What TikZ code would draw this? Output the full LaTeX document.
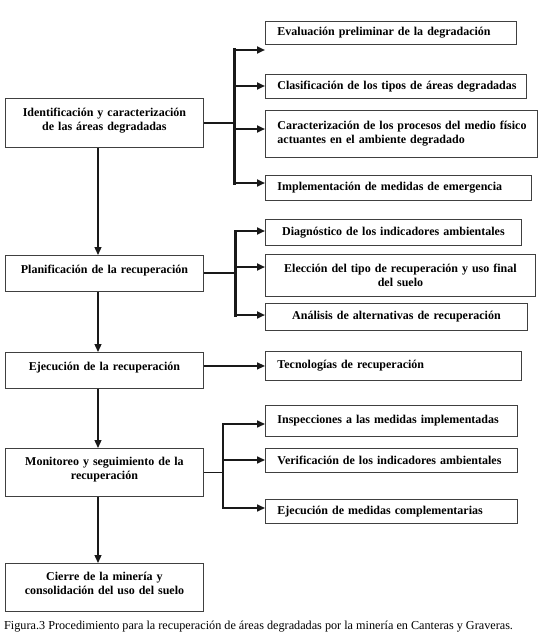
\documentclass[tikz,border=0pt]{standalone}
\usepackage{fontspec}
\setmainfont{Liberation Serif}
\usetikzlibrary{arrows.meta}
\newcommand{\ltxt}[1]{\hspace*{12pt}\mbox{#1}}
\begin{document}
\begin{tikzpicture}[x=1pt,y=-1pt,
  box/.style={draw=black!75, line width=0.9pt, inner ysep=0pt,
    font=\bfseries\fontsize{12}{14}\selectfont, anchor=north west},
  lbox/.style={box, align=left, inner xsep=0pt},
  cbox/.style={box, align=center, inner xsep=6pt},
  stepnode/.style={cbox, minimum width=198pt, text width=186pt, text depth=9pt},
  steptwo/.style={stepnode, text depth=22pt},
  arr/.style={-{Triangle[length=8pt,width=7pt]}, line width=1.3pt, draw=black!90},
  harr/.style={arr, line width=2pt},
  harrthin/.style={arr, line width=1.6pt},
  busthick/.style={line width=3pt, draw=black!90, line cap=rect},
  busthin/.style={line width=2pt, draw=black!90, line cap=rect},
  jointhick/.style={line width=2pt, draw=black!90},
  jointhin/.style={line width=1.6pt, draw=black!90}
]
\useasboundingbox (0,0) rectangle (543,634);

% left column
\node[steptwo, minimum height=49pt] (idn) at (5,98)
  {Identificación y caracterización\\de las áreas degradadas};
\node[stepnode, minimum height=36pt] (pla) at (5,255)
  {Planificación de la recuperación};
\node[stepnode, minimum height=36pt] (eje) at (5,352)
  {Ejecución de la recuperación};
\node[steptwo, minimum height=48pt] (mon) at (5,448)
  {Monitoreo y seguimiento de la\\recuperación};
\node[steptwo, minimum height=48pt] (cie) at (5,563)
  {Cierre de la minería y\\consolidación del uso del suelo};

% right column, group 1
\node[lbox, minimum width=251pt, minimum height=23pt, text width=251pt] (eva) at (265,21)
  {\ltxt{Evaluación preliminar de la degradación}};
\node[lbox, minimum width=261pt, minimum height=24pt, text width=261pt] (cla) at (265,74)
  {\ltxt{Clasificación de los tipos de áreas degradadas}};
\node[lbox, minimum width=272pt, minimum height=47pt, text width=272pt] (car) at (265,110)
  {\ltxt{Caracterización de los procesos del medio físico}\\\ltxt{actuantes en el ambiente degradado}};
\node[lbox, minimum width=266pt, minimum height=25pt, text width=266pt] (imp) at (265,175)
  {\ltxt{Implementación de medidas de emergencia}};

% group 2
\node[cbox, minimum width=256pt, minimum height=26pt, text width=244pt] (dia) at (265,219)
  {Diagnóstico de los indicadores ambientales};
\node[cbox, minimum width=270pt, minimum height=42pt, text width=258pt] (ele) at (265,254)
  {Elección del tipo de recuperación y uso final\\del suelo};
\node[cbox, minimum width=262pt, minimum height=27pt, text width=250pt] (ana) at (265,303)
  {Análisis de alternativas de recuperación};

% group 3
\node[lbox, minimum width=256pt, minimum height=29pt, text width=256pt] (tec) at (265,351)
  {\ltxt{Tecnologías de recuperación}};

% group 4
\node[lbox, minimum width=252pt, minimum height=31pt, text width=252pt] (ins) at (265,405)
  {\ltxt{Inspecciones a las medidas implementadas}};
\node[lbox, minimum width=252pt, minimum height=24pt, text width=252pt] (ver) at (265,448)
  {\ltxt{Verificación de los indicadores ambientales}};
\node[lbox, minimum width=252pt, minimum height=24pt, text width=252pt] (ejm) at (265,499)
  {\ltxt{Ejecución de medidas complementarias}};

% caption
\node[anchor=west, inner sep=0pt, font=\fontsize{12.2}{14}\selectfont] (cap) at (4,627)
  {Figura.3 Procedimiento para la recuperación de áreas degradadas por la minería en Canteras y Graveras.};

% vertical flow arrows
\coordinate (vx) at (98,0);
\draw[arr] (idn.south -| vx) -- (pla.north -| vx);
\draw[arr] (pla.south -| vx) -- (eje.north -| vx);
\draw[arr] (eje.south -| vx) -- (mon.north -| vx);
\draw[arr] (mon.south -| vx) -- (cie.north -| vx);

% group 1 bus
\coordinate (a1) at (234,50);
\coordinate (a2) at (234,86);
\coordinate (a3) at (234,129);
\coordinate (a4) at (234,183);
\draw[busthick] (a1) -- (a4);
\draw[jointhick] (idn.east) -- (idn.east -| a1);
\draw[harr] (a1) -- (a1 -| eva.west);
\draw[harr] (a2) -- (a2 -| cla.west);
\draw[harr] (a3) -- (a3 -| car.west);
\draw[harr] (a4) -- (a4 -| imp.west);

% group 2 bus
\coordinate (b1) at (235,231);
\coordinate (b2) at (235,267);
\coordinate (b3) at (235,315);
\draw[busthick] (b1) -- (b3);
\draw[jointhick] (pla.east) -- (pla.east -| b1);
\draw[harr] (b1) -- (b1 -| dia.west);
\draw[harr] (b2) -- (b2 -| ele.west);
\draw[harr] (b3) -- (b3 -| ana.west);

% group 3
\draw[arr] (eje.east |- tec.west) -- (tec.west);

% group 4 bus
\coordinate (c1) at (223,424);
\coordinate (c2) at (223,460);
\coordinate (c3) at (223,508);
\draw[busthin] (c1) -- (c3);
\draw[jointhin] (mon.east) -- (mon.east -| c1);
\draw[harrthin] (c1) -- (c1 -| ins.west);
\draw[harrthin] (c2) -- (c2 -| ver.west);
\draw[harrthin] (c3) -- (c3 -| ejm.west);
\end{tikzpicture}
\end{document}
